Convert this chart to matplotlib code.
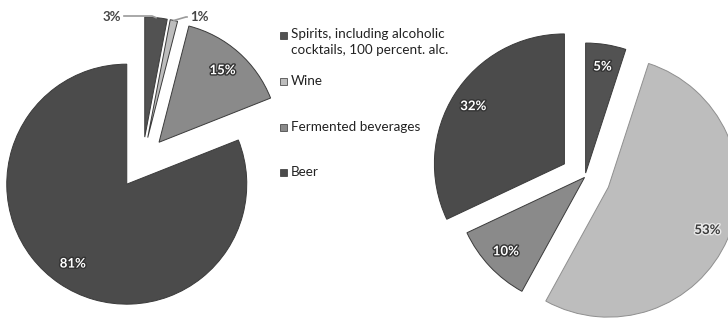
import numpy as np
import matplotlib
matplotlib.use("Agg")
import matplotlib.pyplot as plt
from matplotlib import patheffects as pe
from matplotlib.patches import Rectangle

plt.rcParams['font.family'] = ['Lato', 'DejaVu Sans']

# data
categories = ["Spirits, including alcoholic\ncocktails, 100 percent. alc.",
              "Wine", "Fermented beverages", "Beer"]
left_shares = [3, 1, 15, 81]
right_shares = [5, 53, 10, 32]

colors = ["#525252", "#bdbdbd", "#8a8a8a", "#4b4b4b"]
edge = "#3a3a3a"

# canvas in pixel units (y measured upwards)
W, H = 728, 318
fig = plt.figure(figsize=(W / 100, H / 100), dpi=100)
ax = fig.add_axes([0, 0, 1, 1])


def pct_fmt(p):
    # small slices get an outside label with a leader line instead
    return "" if p < 4 else f"{p:.0f}%"


def style_labels(texts):
    for t in texts:
        t.set_color("white")
        t.set_fontsize(9.5)
        t.set_fontweight("bold")
        t.set_path_effects([pe.withStroke(linewidth=2, foreground="#333333")])


# left pie
lw, _, lt = ax.pie(left_shares, colors=colors, startangle=90, counterclock=False,
                   center=(142.5, 157), radius=120, explode=[24, 24, 25, 28],
                   autopct=pct_fmt, pctdistance=0.8,
                   wedgeprops=dict(edgecolor=edge, linewidth=0.7))
style_labels(lt)

# outside labels for the 3% and 1% slices
for i, (tx, ha, elbow) in zip([0, 1], [(121, "right", -4), (190, "left", 12)]):
    w = lw[i]
    th = np.deg2rad((w.theta1 + w.theta2) / 2)
    px = w.center[0] + w.r * np.cos(th)
    py = w.center[1] + w.r * np.sin(th)
    ty = 301
    if ha == "right":
        ax.plot([tx + 3, px - 4, px], [ty + 1, ty + 1, py], color="#9a9a9a", lw=1.2)
    else:
        ax.plot([px, px + elbow, tx - 3], [py, ty, ty], color="#9a9a9a", lw=1.2)
    ax.text(tx, ty, f"{left_shares[i]}%", ha=ha, va="center", fontsize=9.5,
            fontweight="bold", color="#454545")

# right pie
rw, _, rt = ax.pie(right_shares, colors=colors, startangle=90, counterclock=False,
                   center=(585, 141), radius=130, explode=[4, 25.5, 0.6, 24.4],
                   autopct=pct_fmt, pctdistance=0.83,
                   wedgeprops=dict(edgecolor=edge, linewidth=0.7))
style_labels(rt)
rt[1].set_color("#3a3a3a")
rt[1].set_path_effects([pe.withStroke(linewidth=2, foreground="#e8e8e8")])
rw[1].set_edgecolor("#8f8f8f")

# legend
leg_y = [283, 237, 191, 146]
for lab, c, y in zip(categories, colors, leg_y):
    ax.add_patch(Rectangle((280, y - 3.5), 7, 7, facecolor=c, edgecolor="#333333", lw=0.5))
    top = "\n" in lab
    ax.text(291, y + 7 if top else y, lab, ha="left", va="top" if top else "center",
            fontsize=9.7, color="#222222", linespacing=1.35)

ax.set_xlim(0, W)
ax.set_ylim(0, H)
ax.set_aspect("equal")
ax.axis("off")

fig.savefig("out.png", dpi=100)
